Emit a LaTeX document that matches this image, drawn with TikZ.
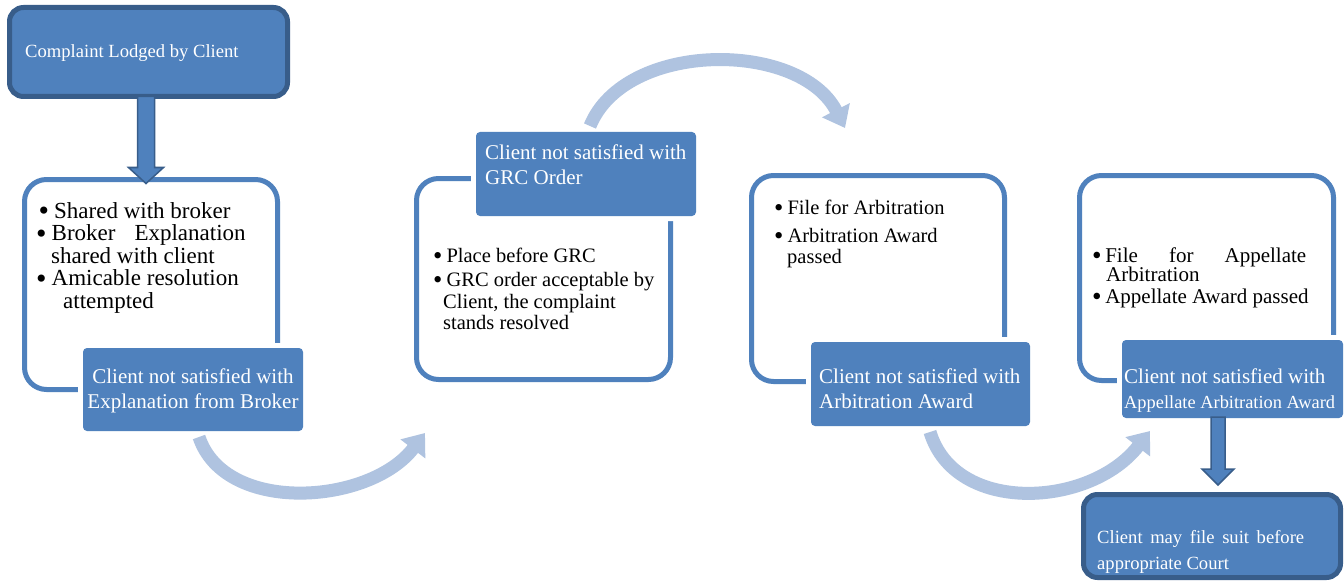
\documentclass[tikz,border=0pt]{standalone}
\usepackage{fontspec}
\setmainfont{Liberation Serif}
\usetikzlibrary{arrows.meta,calc}
\definecolor{accent}{HTML}{4F81BD}
\definecolor{rim}{HTML}{385D8A}
\definecolor{pale}{HTML}{AFC3E0}
\newcommand{\blt}[1][4pt]{\raisebox{-0.09em}{\scalebox{1.3}{\textbullet}}\hspace{#1}}
\begin{document}
\begin{tikzpicture}[x=1pt,y=-1pt,
  panel/.style={draw=accent, line width=5pt, rounded corners=22pt, inner sep=0pt, outer sep=0pt, anchor=north west},
  tag/.style={fill=accent, rounded corners=4pt, inner sep=0pt, outer sep=0pt, anchor=north west, preaction={draw=white, line width=10pt}},
  endbox/.style={fill=accent, draw=rim, line width=5pt, rounded corners=14pt, inner sep=0pt, outer sep=0pt, anchor=north west},
  tagtext/.style={text=white, inner sep=0pt, align=left, anchor=north west, font=\fontsize{21}{25}\selectfont},
  bodytext/.style={inner sep=0pt, align=left, anchor=north west},
  sweep/.style={draw=pale, line width=13pt, -{Triangle[width=30pt,length=20pt]}},
  blockdown/.style={fill=accent, draw=rim, line width=1.5pt, line join=miter}
]
\useasboundingbox (0,0) rectangle (1344,583);
\fill[white] (0,0) rectangle (1344,583);

% shapes
\node[endbox, minimum width=278pt, minimum height=89pt] (start) at (9.5,7.5) {};
\node[panel, minimum width=253pt, minimum height=210pt] (pA) at (24.5,179.5) {};
\node[panel, minimum width=254pt, minimum height=201pt] (pB) at (416.5,178.5) {};
\node[panel, minimum width=253pt, minimum height=206pt] (pC) at (751.5,175.5) {};
\node[panel, minimum width=254pt, minimum height=205pt] (pD) at (1079.5,175.5) {};
\node[tag, minimum width=220pt, minimum height=83pt] (lA) at (83,348) {};
\node[tag, minimum width=220pt, minimum height=84pt] (lB) at (476,132) {};
\node[tag, minimum width=219pt, minimum height=84pt] (lC) at (811,342) {};
\node[tag, minimum width=221pt, minimum height=78pt] (lD) at (1122,340) {};
\node[endbox, minimum width=257pt, minimum height=83pt] (court) at (1083.5,494.5) {};

% block arrows
\path[blockdown] let \p1=($(start.south)+(-2.5,0)$), \p2=(pA.north) in
  (\x1-8.5pt,\y1) -- (\x1-8.5pt,\y2+12pt) -- (\x1-17.5pt,\y2+12pt) -- (\x1,\y2-4pt)
  -- (\x1+17.5pt,\y2+12pt) -- (\x1+8.5pt,\y2+12pt) -- (\x1+8.5pt,\y1) -- cycle;
\path[blockdown] let \p1=($(lD.south)+(-14.5,-1)$), \p2=(court.north) in
  (\x1-7pt,\y1) -- (\x1-7pt,\y2+25.5pt) -- (\x1-16pt,\y2+25.5pt) -- (\x1,\y2+9.5pt)
  -- (\x1+16pt,\y2+25.5pt) -- (\x1+7pt,\y2+25.5pt) -- (\x1+7pt,\y1) -- cycle;

% curved connectors
\draw[sweep] ($(lA.south)+(6,6)$) .. controls (225,515) and (370,505) .. ($(pB.south west)+(8.5,53.5)$);
\draw[sweep] ($(lB.north)+(4,-6)$) .. controls (625,40) and (800,40) .. ($(pC.north west)+(93.5,-47.5)$);
\draw[sweep] ($(lC.south)+(9.5,6)$) .. controls (955,515) and (1090,508) .. ($(lD.south west)+(28,13)$);

% texts
\node[text=white, inner sep=0pt, anchor=base west, font=\fontsize{18.6}{22}\selectfont] (starttxt) at (25,58) {Complaint Lodged by Client};

\node[bodytext, font=\fontsize{23}{22.5}\selectfont] (tA) at (36,202.3)
  {\hspace*{2.5pt}\blt[5pt]Shared with broker\\
   \blt[5pt]\makebox[194pt][s]{Broker Explanation}\\
   \hspace*{15pt}shared with client\\
   \blt[5pt]Amicable resolution\\
   \hspace*{27pt}attempted};
\node[bodytext, font=\fontsize{20.5}{21.5}\selectfont] (tB) at (433,247.7)
  {\blt Place before GRC\\[3pt]
   \blt GRC order acceptable by\\
   \hspace*{10pt}Client, the complaint\\
   \hspace*{10pt}stands resolved};
\node[bodytext, font=\fontsize{20.5}{20.5}\selectfont] (tC) at (774,200)
  {\blt File for Arbitration\\[7.5pt]
   \blt Arbitration Award\\
   \hspace*{13pt}passed};
\node[bodytext, font=\fontsize{21}{20}\selectfont] (tD) at (1092,247.7)
  {\blt[3.5pt]\makebox[201pt][s]{File for Appellate}\\[-1pt]
   \hspace*{14pt}Arbitration\\[2pt]
   \blt[3.5pt]Appellate Award passed};

\node[tagtext, align=center, anchor=north] (xA) at (193,368.7) {Client not satisfied with\\ Explanation from Broker};
\node[tagtext] (xB) at (485,144.7) {Client not satisfied with\\ GRC Order};
\node[tagtext] (xC) at (819,368.7) {Client not satisfied with\\ Arbitration Award};
\node[tagtext] (xD) at (1124,368.7) {Client not satisfied with\\ {\fontsize{18.4}{25}\selectfont Appellate Arbitration Award}};
\node[tagtext, font=\fontsize{18.6}{26}\selectfont] (xE) at (1097,530.3) {\makebox[207pt][s]{Client may file suit before}\\ appropriate Court};
\end{tikzpicture}
\end{document}
